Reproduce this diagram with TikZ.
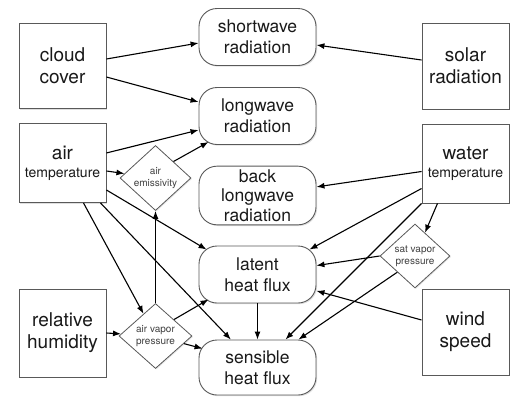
\documentclass[tikz,border=0pt]{standalone}
\usepackage{fontspec}
\setmainfont{TeX Gyre Heros}
\usetikzlibrary{shapes.geometric,arrows.meta,shadows}
\begin{document}
\begin{tikzpicture}[x=1pt,y=-1pt,-{Latex[length=8pt,width=6pt]},line width=1.1pt,
	box/.style={draw=black!65, line width=0.9pt, fill=white, minimum width=87pt, align=center, text=black!90,
		font=\fontsize{19}{22}\selectfont, drop shadow={shadow xshift=1.2pt, shadow yshift=-1.2pt, opacity=0.25}},
	flux/.style={box, rounded corners=18pt, minimum width=117pt, minimum height=57pt, font=\fontsize{17.5}{21}\selectfont},
	factor/.style={diamond, draw=black!65, line width=0.8pt, fill=white, inner sep=0pt, minimum width=71pt, minimum height=64pt,
		align=center, text=black!75, font=\fontsize{10}{12.5}\selectfont, drop shadow={shadow xshift=1pt, shadow yshift=-1pt, opacity=0.2}},
	sub/.style={font=\fontsize{14}{16}\selectfont}]
			\useasboundingbox (0,0) rectangle (517,397);
			\node[box, minimum height=85pt] (cloud) at (62.5,66) {cloud\\cover};
			\node[box, minimum height=79pt] (airt) at (62.5,163) {air\\[-4pt]{\fontsize{14}{16}\selectfont temperature}};
			\node[box, minimum height=88pt] (humid) at (62.5,333) {relative\\humidity};
			\node[box, minimum height=86pt] (solar) at (465.5,66) {solar\\radiation};
			\node[box, minimum height=79pt] (water) at (465.5,163.5) {water\\[-4pt]{\fontsize{14}{16}\selectfont temperature}};
			\node[box, minimum height=86pt] (wind) at (465.5,332) {wind\\speed};
			\node[flux] (short) at (257.5,37) {shortwave\\radiation};
			\node[flux] (long) at (257.5,116) {longwave\\radiation};
			\node[flux, font=\fontsize{17.5}{19.5}\selectfont] (back) at (257.5,195.5) {back\\longwave\\radiation};
			\node[flux] (latent) at (257.5,274.5) {latent\\heat flux};
			\node[flux, minimum height=55pt] (sens) at (257.5,367.5) {sensible\\heat flux};
			\node[factor] (emis) at (155.5,178) {air\\emissivity};
			\node[factor, minimum width=73pt, minimum height=65pt] (avp) at (155.5,336) {air vapor\\pressure};
			\node[factor, minimum width=70pt] (sat) at (415,256) {sat vapor\\pressure};
			\draw ([yshift=7pt]cloud.east) -- ([yshift=-6pt]short.west);
			\draw ([yshift=-11pt]cloud.east) -- ([yshift=14pt]long.west);
			\draw ([yshift=6pt]solar.west) -- ([yshift=-8pt]short.east);
			\draw ([yshift=10pt]airt.east) -- ([yshift=-14pt]long.west);
			\draw ([yshift=-8pt]airt.east) -- (emis);
			\draw (emis.north east) -- ([shift={(10pt,3pt)}]long.south west);
			\draw ([yshift=-27pt]airt.east) -- ([shift={(8pt,-4pt)}]latent.north west);
			\draw ([xshift=21pt]airt.south) -- (avp);
			\draw ([xshift=38pt]airt.south) -- (sens);
			\draw (avp.north) -- (emis.south);
			\draw (avp.north east) -- ([shift={(10pt,4pt)}]latent.south west);
			\draw (avp.-15) -- ([shift={(4pt,-9pt)}]sens.north west);
			\draw (humid.east) -- (avp);
			\draw ([yshift=-8pt]water.west) -- (back);
			\draw ([yshift=-25pt]water.west) -- ([shift={(-7pt,-4pt)}]latent.north east);
			\draw ([xshift=-28pt]water.south) -- (sat);
			\draw (water.south west) -- (sens);
			\draw (sat.west) -- (latent);
			\draw (sat.south west) -- (sens);
			\draw ([yshift=12pt]wind.west) -- (latent);
			\draw (latent.south) -- (sens.north);
		\end{tikzpicture}
\end{document}
